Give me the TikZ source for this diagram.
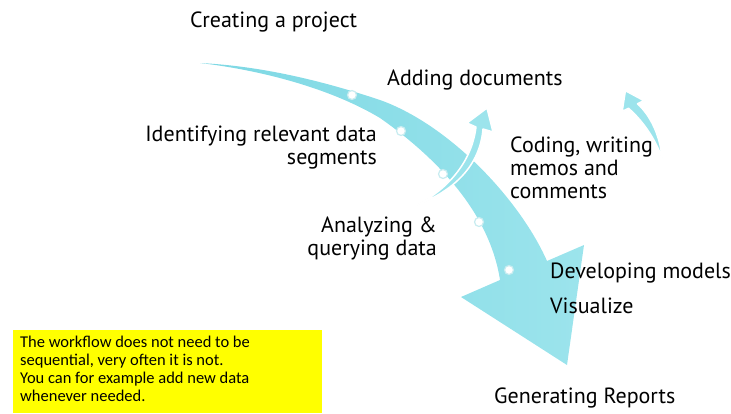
\documentclass[tikz,border=0pt]{standalone}
\usepackage{fontspec}
\setmainfont{PT Sans}
\newfontfamily\boxfont{Carlito}
\definecolor{arrowcyan}{RGB}{156,228,236}
\definecolor{arrowdark}{RGB}{125,216,228}
\definecolor{dotring}{RGB}{200,236,240}
\definecolor{noteyellow}{RGB}{255,255,0}
\begin{document}
\begin{tikzpicture}[x=1pt,y=-1pt,
  lbl/.style={font=\fontsize{22}{23}\selectfont, inner sep=0pt},
  bigarrow/.style={draw=none},
  smallarrow/.style={fill=arrowcyan, draw=white, line width=1.5pt, line join=round},
  dot/.style={circle, fill=white, draw=dotring, line width=1.2pt, minimum size=9pt, inner sep=0pt},
  notebox/.style={fill=noteyellow, draw=none}]
\useasboundingbox (0,0) rectangle (731,413);
% big arrow
\path[bigarrow, left color=arrowdark, right color=arrowcyan]
  (200,63) .. controls (260,66) and (320,80) .. (380,100)
  .. controls (450,125) and (520,200) .. (547,261)
  -- (584,245) -- (567,365) -- (461,297) -- (500,280)
  .. controls (490,215) and (440,160) .. (380,118)
  .. controls (330,88) and (260,70) .. (200,63) -- cycle;
% dots
\node[dot] (d1) at (352,95) {};
\node[dot] (d2) at (401,131) {};
\node[dot] (d3) at (443,174) {};
\node[dot] (d4) at (479,222) {};
\node[dot] (d5) at (509,270) {};
% small arrow: adding documents
\path[smallarrow]
  (417,205) .. controls (455,190) and (480,165) .. (483,129)
  -- (493,132) -- (487,108) -- (467,123) -- (476,127)
  .. controls (472,160) and (450,188) .. (417,205) -- cycle;
% small arrow right
\path[smallarrow]
  (662,158) .. controls (660,135) and (650,115) .. (637.5,103.8)
  -- (643.8,100.6) -- (625.4,90.7) -- (622.2,111.4) -- (628.5,108.3)
  .. controls (642,120) and (655,138) .. (662,158) -- cycle;
% labels
\node[lbl, anchor=west] (create) at (190,22) {Creating a project};
\node[lbl, anchor=west] (adding) at (387,80) {Adding documents};
\node[lbl, anchor=north east, align=right] (ident) at (377,126) {Identifying relevant data\\segments};
\node[lbl, anchor=north west, align=left] (coding) at (510,137) {Coding, writing\\memos and\\comments};
\node[lbl, anchor=north east, align=right] (analyze) at (437,217) {Analyzing \&\\querying data};
\node[lbl, anchor=west] (devel) at (550,273) {Developing models};
\node[lbl, anchor=west] (visual) at (550,306) {Visualize};
\node[lbl, anchor=west] (report) at (494,398) {Generating Reports};
% note
\fill[notebox] (13,330) rectangle (322,413);
\node[anchor=north west, align=left, inner sep=0pt, font=\boxfont\fontsize{16.5}{18}\selectfont] (note) at (20,336)
  {The workflow does not need to be\\sequential, very often it is not.\\You can for example add new data\\whenever needed.};
\end{tikzpicture}
\end{document}
